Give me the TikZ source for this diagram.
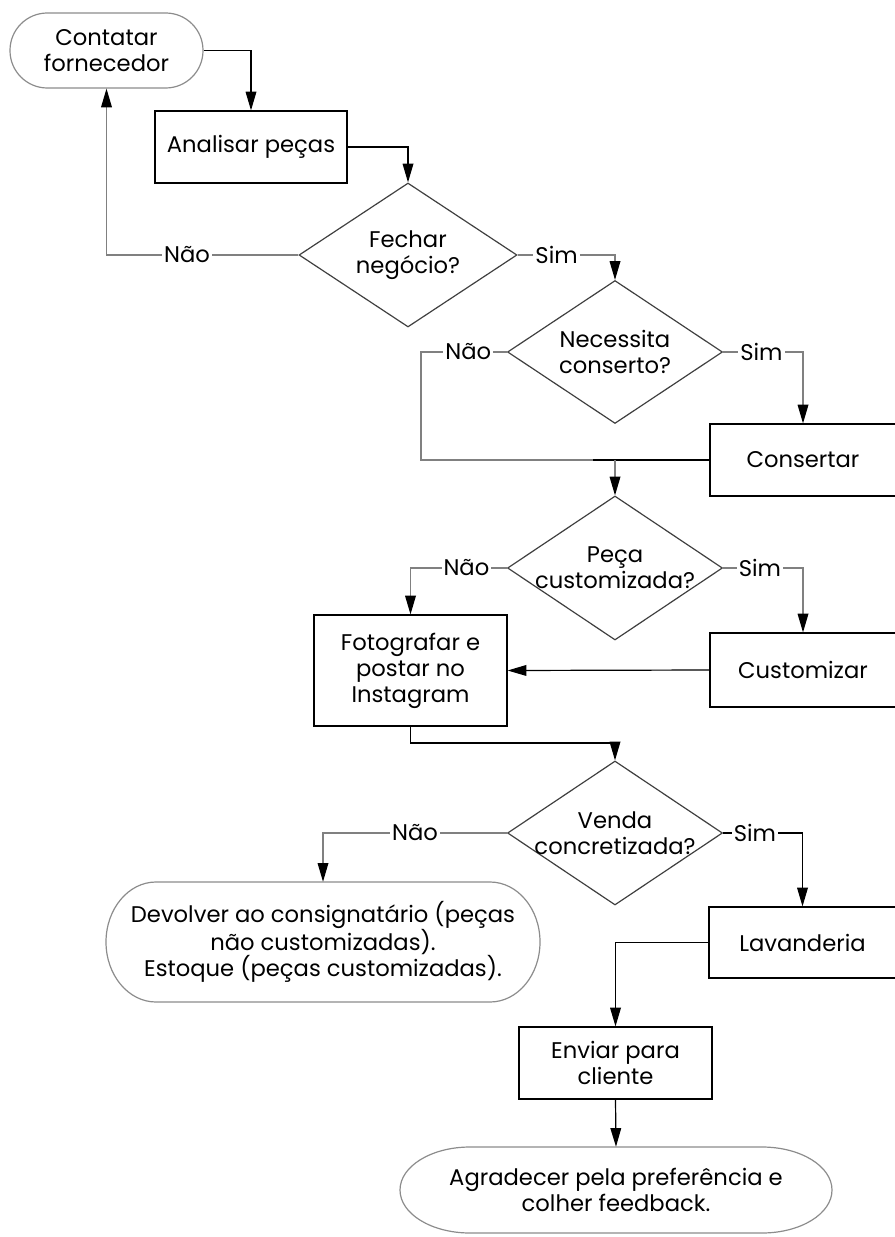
\documentclass[tikz,border=0pt]{standalone}
\usepackage{fontspec}
\setmainfont{Poppins}
\usetikzlibrary{shapes.geometric,arrows.meta}
\newcommand{\zw}[1]{\makebox[0pt]{#1}}
\begin{document}
\begin{tikzpicture}[x=0.75pt,y=-0.75pt,
  base/.style={font=\fontsize{17}{19.5}\selectfont, align=center, inner sep=0pt},
  box/.style={base, rectangle, draw=black, line width=0.9pt},
  term/.style={base, rectangle, draw=black!45, line width=0.9pt},
  termline/.style={draw=black!45, line width=0.9pt},
  dec/.style={base, shape=diamond, draw=black!75, line width=0.9pt},
  arr/.style={line width=0.9pt, -{Triangle[length=14pt,width=8pt,color=black]}},
  gl/.style={draw=black!50},
  bl/.style={draw=black},
  lbl/.style={font=\fontsize{17}{19.5}\selectfont, fill=white, inner sep=1.5pt, text=black}
]
\useasboundingbox (0,0) rectangle (894,1237);

% nodes
\node[term, rounded corners=28pt, minimum width=144.75pt, minimum height=56.25pt] (contatar) at (106.5,50.5) {Contatar\\fornecedor};
\node[box, minimum width=144pt, minimum height=54pt] (analisar) at (251,147) {Analisar peças};
\node[dec, minimum width=163.5pt, minimum height=108pt] (fechar) at (408,255) {\zw{Fechar}\\\zw{negócio?}};
\node[dec, minimum width=161.25pt, minimum height=107.25pt] (necessita) at (615,352) {\zw{Necessita}\\\zw{conserto?}};
\node[box, minimum width=139.5pt, minimum height=54pt] (consertar) at (803,460) {Consertar};
\node[dec, minimum width=161.25pt, minimum height=108pt] (peca) at (615,568) {\zw{Peça}\\\zw{customizada?}};
\node[box, minimum width=144.75pt, minimum height=83.25pt] (foto) at (410.5,670.5) {Fotografar e\\postar no\\Instagram};
\node[box, minimum width=139.5pt, minimum height=55.5pt] (custom) at (803,670) {Customizar};
\node[dec, minimum width=161.25pt, minimum height=108pt] (venda) at (615,833) {\zw{Venda}\\\zw{concretizada?}};
\node[base, rectangle, minimum width=325.5pt, minimum height=90pt] (devolver) at (323,942) {Devolver ao consignatário (peças\\não customizadas).\\Estoque (peças customizadas).};
\draw[termline] (156,882) -- (490,882) arc[start angle=-90,end angle=90,x radius=50,y radius=60] -- (156,1002) arc[start angle=90,end angle=270,x radius=50,y radius=60] -- cycle;
\node[box, minimum width=140.25pt, minimum height=53.25pt] (lav) at (802.5,942.5) {Lavanderia};
\node[box, minimum width=144.75pt, minimum height=54pt] (enviar) at (615.5,1063) {Enviar para\\cliente};
\node[base, rectangle, minimum width=324pt, minimum height=64.5pt] (agradecer) at (616,1190) {Agradecer pela preferência e\\colher feedback.};
\draw[termline] (470,1147) -- (762,1147) arc[start angle=-90,end angle=90,x radius=70,y radius=43] -- (470,1233) arc[start angle=90,end angle=270,x radius=70,y radius=43] -- cycle;

% junction coordinates
\coordinate (j1) at (421,460);
\coordinate (j2) at (593,460);
\coordinate (j3) at (615,460);
\coordinate (j4) at (615,743);

% connectors
\draw[arr,bl] (contatar.east) -| (analisar.north);
\draw[arr,bl] (analisar.east) -| (fechar.north);
\draw[arr,gl] (fechar.west) -| node[lbl,pos=0.29] (n1) {Não} (contatar.south);
\draw[arr,gl] (fechar.east) -| node[lbl,pos=0.2] (s1) {Sim} (necessita.north);
\draw[line width=0.9pt,gl] (necessita.west) -| node[lbl,pos=0.225] (n2) {Não} (j1) -- (j2);
\draw[arr,gl] (necessita.east) -| node[lbl,pos=0.24] (s2) {Sim} (consertar.north);
\draw[line width=0.9pt,bl] (consertar.west) -- (j2);
\draw[arr,gl] (j3) -- (peca.north);
\draw[arr,gl] (peca.west) -| node[lbl,pos=0.21] (n3) {Não} (foto.north);
\draw[arr,gl] (peca.east) -| node[lbl,pos=0.23] (s3) {Sim} (custom.north);
\draw[arr,bl] (custom.west) -- (foto.east);
\draw[arr,bl] (foto.south) |- (j4) -- (venda.north);
\draw[arr,gl] (venda.west) -| node[lbl,pos=0.25] (n4) {Não} (devolver.north);
\draw[arr,bl] (venda.east) -| node[lbl,pos=0.2] (s4) {Sim} (lav.north);
\draw[arr,bl] (lav.west) -| (enviar.north);
\draw[arr,bl] (enviar.south) -- (agradecer.north);
\end{tikzpicture}
\end{document}
